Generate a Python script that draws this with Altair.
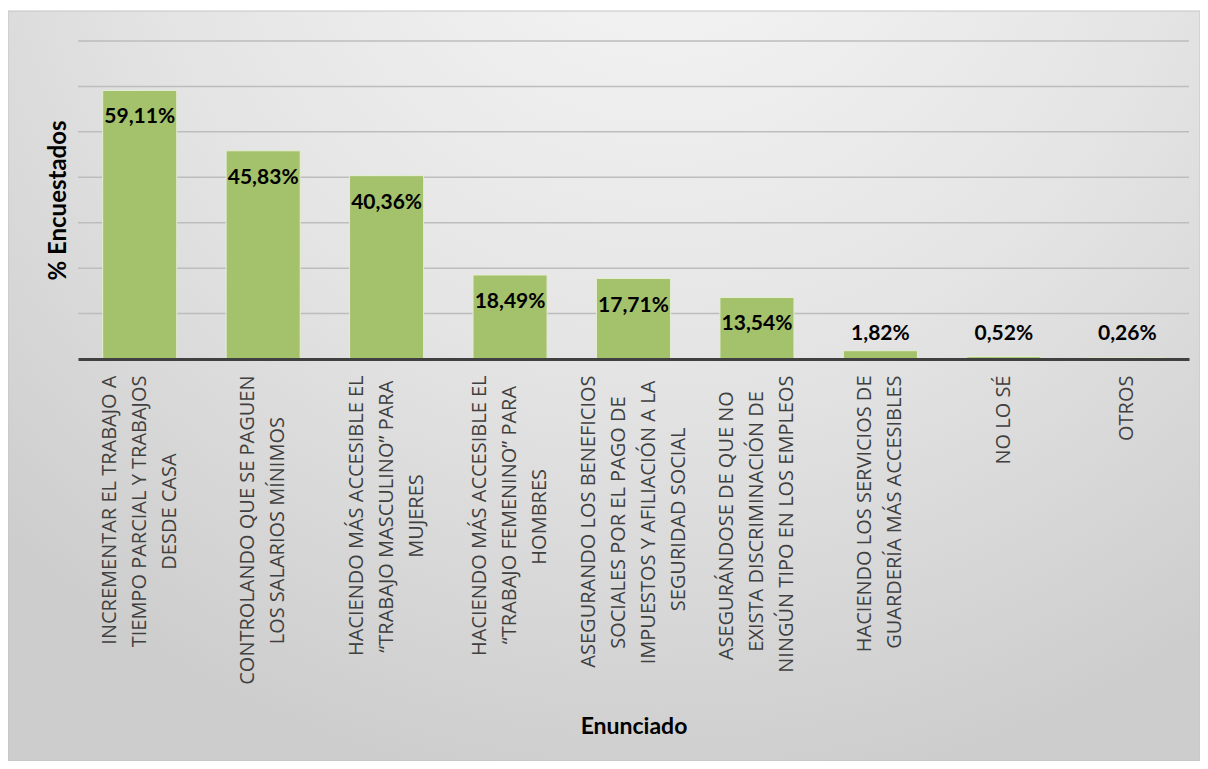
import unicodedata
import altair as alt
import pandas as pd

# ---------------- data ----------------
enunciados = [
    ["INCREMENTAR EL TRABAJO A", "TIEMPO PARCIAL Y TRABAJOS", "DESDE CASA"],
    ["CONTROLANDO QUE SE PAGUEN", "LOS SALARIOS MÍNIMOS"],
    ["HACIENDO MÁS ACCESIBLE EL", "“TRABAJO MASCULINO” PARA", "MUJERES"],
    ["HACIENDO MÁS ACCESIBLE EL", "“TRABAJO FEMENINO” PARA", "HOMBRES"],
    ["ASEGURANDO LOS BENEFICIOS", "SOCIALES POR EL PAGO DE",
     "IMPUESTOS Y AFILIACIÓN A LA", "SEGURIDAD SOCIAL"],
    ["ASEGURÁNDOSE DE QUE NO", "EXISTA DISCRIMINACIÓN DE",
     "NINGÚN TIPO EN LOS EMPLEOS"],
    ["HACIENDO LOS SERVICIOS DE", "GUARDERÍA MÁS ACCESIBLES"],
    ["NO LO SÉ"],
    ["OTROS"],
]
porcentajes = [59.11, 45.83, 40.36, 18.49, 17.71, 13.54, 1.82, 0.52, 0.26]
etiquetas = ["59,11%", "45,83%", "40,36%", "18,49%", "17,71%", "13,54%",
             "1,82%", "0,52%", "0,26%"]
marcas_y = [10, 20, 30, 40, 50, 60, 70]

# ---- centre each wrapped line inside its block (Open Sans widths, em) ----
W = {'A': .633, 'B': .648, 'C': .631, 'D': .729, 'E': .556, 'F': .516, 'G': .728,
     'H': .738, 'I': .279, 'J': .267, 'K': .614, 'L': .519, 'M': .903, 'N': .754,
     'O': .779, 'P': .602, 'Q': .779, 'R': .618, 'S': .549, 'T': .553, 'U': .728,
     'V': .595, 'W': .926, 'X': .600, 'Y': .572, 'Z': .552, ' ': .26,
     '“': .35, '”': .35}


def ancho(s):
    tot = 0
    for ch in s:
        base = unicodedata.normalize("NFD", ch)[0]
        tot += W.get(base, .6)
    return tot


NBSP = "\u00a0"
ZWSP = "\u200b"  # keeps trailing no-break spaces from being trimmed
cats = []
for lineas in enunciados:
    m = max(ancho(l) for l in lineas)
    out = []
    for l in lineas:
        n = int(round((m - ancho(l)) / 2 / 0.26))
        out.append(l + NBSP * n + (ZWSP if n else ""))
    cats.append("|".join(out))

df = pd.DataFrame({"enunciado": cats, "pct": porcentajes, "etiqueta": etiquetas})
grid_df = pd.DataFrame({"pct": marcas_y})
bg_df = pd.DataFrame({"k": [0]})

W_PLOT, H_PLOT = 1111, 318
LINE_H = 30

# shift each multi-line label so its block is centred on the band
offset_cond = {
    "condition": [
        {"test": f"length(split(datum.value, '|')) == {k}",
         "value": -LINE_H * (k - 1) / 2}
        for k in (2, 3, 4)
    ],
    "value": 0,
}

x_enc = alt.X(
    "enunciado:N", sort=cats,
    scale=alt.Scale(paddingInner=0.4, paddingOuter=0.2),
    axis=alt.Axis(
        title="Enunciado", labelAngle=-90, labelAlign="right", labelBaseline="middle",
        labelFont="Open Sans", labelFontSize=20, labelColor="#404040",
        labelLineHeight=LINE_H, labelLimit=600, labelPadding=16, labelOverlap=False,
        labelOffset=offset_cond,
        labelExpr="split(datum.label, '|')",
        ticks=False, tickSize=0, grid=False,
        domainColor="#404040", domainWidth=3,
        titleFont="Lato", titleFontSize=23, titleFontWeight="bold", titleColor="black",
        titleX=W_PLOT / 2, titleY=367, titleAlign="center", titleBaseline="middle",
        zindex=1,
    ),
)
y_scale = alt.Scale(domain=[0, 70], nice=False)
y_axis = alt.Axis(
    title="% Encuestados", labels=False, ticks=False, domain=False, grid=False,
    titleFont="Lato", titleFontSize=24, titleFontWeight="bold", titleColor="black",
    titleAngle=-90, titleX=-20, titleY=H_PLOT / 2, titleAlign="center",
    titleBaseline="middle", zindex=1,
)
y_enc = alt.Y("pct:Q", scale=y_scale, axis=y_axis)

fondo = alt.Chart(bg_df).mark_rect(
    fill=alt.RadialGradient(
        gradient="radial",
        stops=[alt.GradientStop(color="#f7f7f7", offset=0),
               alt.GradientStop(color="#e4e4e4", offset=0.55),
               alt.GradientStop(color="#cdcdcd", offset=1)],
        x1=0.55, y1=0.05, r1=0, x2=0.55, y2=0.05, r2=0.8),
    stroke="#c4c4c4", strokeWidth=1,
).encode(x=alt.value(-70), x2=alt.value(W_PLOT + 11), y=alt.value(-30),
         y2=alt.value(H_PLOT + 402))

rejilla = alt.Chart(grid_df).mark_rule(color="#bdbdbd", strokeWidth=1.5).encode(
    y=y_enc
)

barras = alt.Chart(df).mark_bar(
    color="#a4c16b", stroke="#e4eed2", strokeWidth=1
).encode(x=x_enc, y=y_enc)

txt_kw = dict(font="Lato", fontSize=21, fontWeight="bold", color="black",
              baseline="middle", align="center")
texto_dentro = alt.Chart(df).transform_filter("datum.pct > 10").mark_text(
    dy=27, **txt_kw
).encode(x=alt.X("enunciado:N", sort=cats), y=alt.Y("pct:Q", scale=y_scale),
         text="etiqueta:N")
texto_fuera = alt.Chart(df).transform_filter("datum.pct <= 10").mark_text(
    dy=-25, **txt_kw
).encode(x=alt.X("enunciado:N", sort=cats), y=alt.datum(0), text="etiqueta:N")

chart = alt.layer(fondo, rejilla, barras, texto_dentro, texto_fuera).properties(
    width=W_PLOT, height=H_PLOT,
    autosize=alt.AutoSizeParams(type="none"),
    padding={"left": 70, "top": 33, "right": 11, "bottom": 402},
    background="white",
).configure_view(stroke=None)

chart.save("out.html", embed_options={"renderer": "svg", "actions": False})
